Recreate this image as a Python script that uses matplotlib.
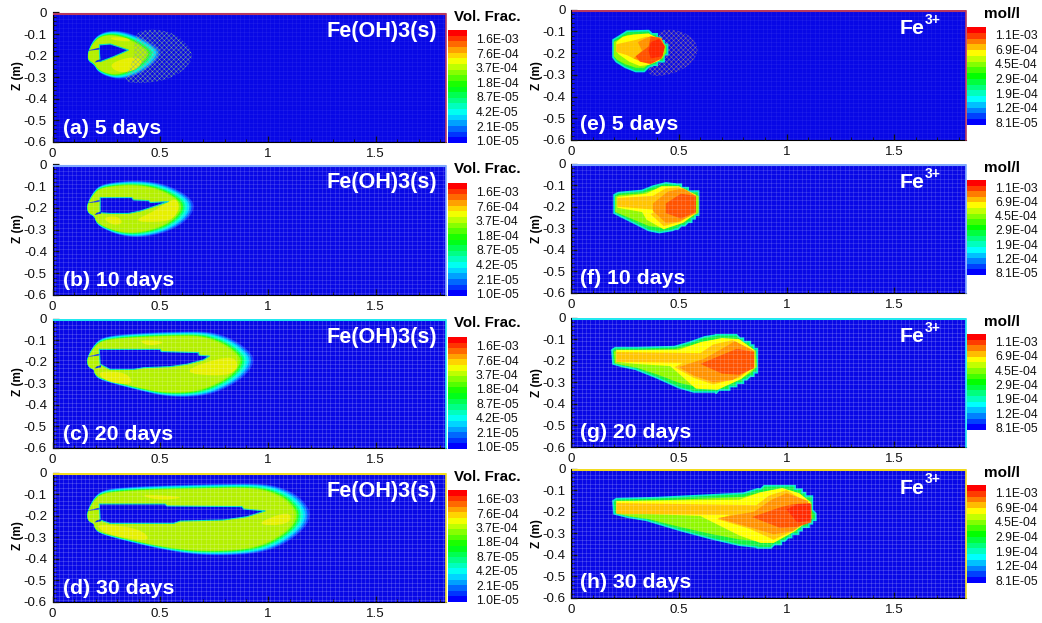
import numpy as np
import matplotlib
matplotlib.use("Agg")
import matplotlib.pyplot as plt
from matplotlib.colors import LinearSegmentedColormap, ListedColormap

plt.rcParams['font.family'] = ['Liberation Sans', 'DejaVu Sans']
plt.rcParams['hatch.linewidth'] = 0.3

W, H = 1042, 623

days = ['5 days', '10 days', '20 days', '30 days']
left_tags = ['(a)', '(b)', '(c)', '(d)']
right_tags = ['(e)', '(f)', '(g)', '(h)']
x_ticks = [0, 0.5, 1, 1.5]
x_tick_labels = ['0', '0.5', '1', '1.5']
z_ticks = [0, -0.1, -0.2, -0.3, -0.4, -0.5, -0.6]
z_tick_labels = ['0', '-0.1', '-0.2', '-0.3', '-0.4', '-0.5', '-0.6']
vol_labels = ['1.0E-05', '2.1E-05', '4.2E-05', '8.7E-05', '1.8E-04', '3.7E-04', '7.6E-04', '1.6E-03']
mol_labels = ['8.1E-05', '1.2E-04', '1.9E-04', '2.9E-04', '4.5E-04', '6.9E-04', '1.1E-03']

# --- Fe(OH)3(s) plume outlines, holes and richer patches (x, z in m)
a_outline = [(.167,-.175),(.19,-.125),(.225,-.095),(.28,-.083),(.34,-.09),(.41,-.115),(.47,-.15),(.505,-.18),(.49,-.215),(.45,-.255),(.39,-.29),(.32,-.31),(.26,-.30),(.21,-.275),(.195,-.245),(.165,-.225),(.163,-.2)]
a_hole = [(.218,-.15),(.268,-.146),(.353,-.174),(.283,-.205),(.221,-.228),(.218,-.19)]
a_patches = [[(.27,-.235),(.36,-.205),(.42,-.215),(.40,-.26),(.33,-.28),(.28,-.265)], [(.26,-.115),(.34,-.115),(.37,-.135),(.29,-.13)]]
b_outline = [(.163,-.175),(.19,-.125),(.22,-.095),(.29,-.08),(.40,-.073),(.50,-.085),(.58,-.115),(.64,-.155),(.658,-.19),(.645,-.23),(.60,-.275),(.53,-.31),(.45,-.33),(.38,-.335),(.31,-.325),(.245,-.30),(.205,-.275),(.195,-.24),(.165,-.225),(.16,-.2)]
b_hole = [(.221,-.152),(.368,-.152),(.376,-.163),(.446,-.166),(.454,-.175),(.539,-.17),(.469,-.194),(.407,-.214),(.353,-.225),(.268,-.225),(.221,-.222)]
b_patches = [[(.37,-.262),(.47,-.215),(.53,-.175),(.575,-.155),(.59,-.20),(.56,-.25),(.50,-.265)], [(.23,-.245),(.30,-.235),(.33,-.27),(.28,-.28)]]
c_outline = [(.163,-.175),(.19,-.125),(.225,-.09),(.30,-.075),(.45,-.065),(.60,-.06),(.72,-.06),(.80,-.08),(.87,-.115),(.92,-.16),(.935,-.19),(.92,-.235),(.87,-.285),(.80,-.325),(.72,-.355),(.62,-.365),(.52,-.36),(.43,-.34),(.33,-.315),(.22,-.285),(.195,-.26),(.195,-.24),(.165,-.225),(.16,-.2)]
c_hole = [(.217,-.143),(.5,-.143),(.505,-.153),(.678,-.158),(.68,-.17),(.729,-.174),(.70,-.192),(.624,-.212),(.546,-.223),(.423,-.228),(.376,-.236),(.268,-.236),(.221,-.212)]
c_patches = [[(.577,-.25),(.825,-.166),(.87,-.22),(.81,-.27)], [(.22,-.243),(.345,-.25),(.376,-.305),(.28,-.30),(.22,-.27)], [(.40,-.105),(.45,-.10),(.53,-.11),(.45,-.128)]]
d_outline = [(.163,-.175),(.19,-.12),(.225,-.085),(.30,-.07),(.50,-.06),(.75,-.053),(.96,-.05),(1.05,-.065),(1.13,-.10),(1.18,-.15),(1.197,-.195),(1.18,-.245),(1.13,-.295),(1.05,-.345),(.95,-.375),(.80,-.385),(.65,-.38),(.50,-.355),(.35,-.32),(.22,-.285),(.195,-.26),(.195,-.24),(.165,-.225),(.16,-.2)]
d_hole = [(.217,-.146),(.523,-.146),(.531,-.155),(.879,-.158),(.887,-.169),(.988,-.178),(.902,-.205),(.794,-.22),(.593,-.225),(.562,-.236),(.268,-.236),(.221,-.22)]
d_patches = [[(.926,-.243),(1.104,-.174),(1.104,-.243)], [(.206,-.236),(.407,-.259),(.461,-.32),(.30,-.298),(.225,-.27)], [(.40,-.105),(.50,-.105),(.62,-.115),(.50,-.13)]]

# --- Fe3+ plume level polygons, outermost first
e_levels = [
    [(.195,-.14),(.22,-.125),(.26,-.10),(.36,-.097),(.38,-.115),(.415,-.125),(.43,-.145),(.443,-.16),(.443,-.20),(.43,-.23),(.40,-.25),(.36,-.265),(.34,-.285),(.30,-.285),(.25,-.265),(.21,-.24),(.195,-.22)],
    [(.21,-.15),(.24,-.125),(.29,-.115),(.36,-.11),(.40,-.13),(.43,-.16),(.43,-.20),(.41,-.235),(.36,-.255),(.32,-.26),(.27,-.24),(.22,-.205),(.21,-.19)],
    [(.21,-.16),(.30,-.14),(.35,-.125),(.41,-.135),(.43,-.17),(.42,-.22),(.36,-.25),(.31,-.235),(.26,-.21),(.21,-.195)],
    [(.31,-.15),(.37,-.122),(.42,-.13),(.435,-.17),(.42,-.225),(.37,-.25),(.29,-.225),(.33,-.19)],
    [(.30,-.215),(.36,-.17),(.37,-.125),(.41,-.13),(.435,-.17),(.42,-.225),(.37,-.25),(.32,-.24)],
    [(.37,-.15),(.41,-.135),(.435,-.17),(.425,-.215),(.37,-.225),(.36,-.19)],
]
f_levels = [
    [(.20,-.145),(.22,-.135),(.33,-.125),(.38,-.105),(.44,-.09),(.48,-.095),(.52,-.105),(.56,-.125),(.597,-.14),(.597,-.235),(.56,-.26),(.53,-.285),(.47,-.31),(.41,-.32),(.36,-.31),(.30,-.28),(.24,-.25),(.20,-.23)],
    [(.215,-.155),(.35,-.14),(.42,-.105),(.50,-.105),(.58,-.145),(.58,-.23),(.52,-.275),(.43,-.305),(.35,-.26),(.33,-.225),(.215,-.205)],
    [(.215,-.16),(.38,-.15),(.44,-.115),(.50,-.11),(.57,-.15),(.57,-.225),(.51,-.27),(.43,-.29),(.37,-.235),(.40,-.215),(.215,-.20)],
    [(.38,-.185),(.45,-.13),(.52,-.115),(.58,-.15),(.58,-.23),(.50,-.27),(.44,-.275),(.38,-.22)],
    [(.44,-.185),(.51,-.14),(.58,-.15),(.58,-.225),(.51,-.255),(.44,-.23)],
]
g_levels = [
    [(.19,-.15),(.205,-.14),(.30,-.14),(.48,-.135),(.55,-.115),(.62,-.09),(.70,-.077),(.76,-.08),(.80,-.10),(.84,-.125),(.865,-.145),(.87,-.235),(.84,-.27),(.80,-.295),(.74,-.325),(.68,-.345),(.57,-.345),(.50,-.325),(.40,-.28),(.30,-.24),(.23,-.225),(.195,-.215)],
    [(.21,-.15),(.50,-.15),(.60,-.115),(.70,-.095),(.78,-.10),(.85,-.15),(.855,-.23),(.79,-.285),(.68,-.335),(.58,-.33),(.50,-.26),(.46,-.225),(.30,-.215),(.21,-.205)],
    [(.21,-.16),(.60,-.165),(.66,-.125),(.75,-.105),(.84,-.15),(.845,-.23),(.78,-.28),(.66,-.31),(.57,-.28),(.48,-.23),(.52,-.21),(.21,-.205)],
    [(.50,-.23),(.62,-.19),(.70,-.145),(.76,-.11),(.85,-.155),(.85,-.23),(.75,-.29),(.66,-.30),(.57,-.27)],
    [(.60,-.215),(.72,-.165),(.77,-.145),(.85,-.16),(.85,-.235),(.78,-.265),(.70,-.26)],
]
h_levels = [
    [(.195,-.15),(.21,-.14),(.40,-.135),(.60,-.125),(.80,-.115),(.88,-.09),(.97,-.075),(1.03,-.08),(1.07,-.10),(1.10,-.125),(1.125,-.145),(1.13,-.235),(1.10,-.265),(1.06,-.29),(1.00,-.33),(.94,-.36),(.87,-.365),(.78,-.355),(.65,-.325),(.50,-.285),(.35,-.24),(.26,-.225),(.20,-.21)],
    [(.21,-.15),(.78,-.145),(.88,-.11),(.98,-.09),(1.06,-.115),(1.11,-.155),(1.115,-.23),(1.04,-.29),(.94,-.345),(.88,-.345),(.78,-.31),(.66,-.25),(.60,-.22),(.21,-.205)],
    [(.21,-.16),(.86,-.17),(.92,-.125),(1.0,-.10),(1.10,-.16),(1.10,-.23),(1.03,-.29),(.94,-.33),(.83,-.28),(.68,-.235),(.74,-.215),(.21,-.21)],
    [(.68,-.23),(.85,-.20),(.93,-.145),(1.0,-.115),(1.10,-.15),(1.11,-.235),(1.03,-.29),(.94,-.305),(.84,-.275)],
    [(.84,-.225),(.97,-.18),(1.03,-.165),(1.11,-.16),(1.115,-.25),(1.05,-.27),(.97,-.275)],
    [(1.0,-.19),(1.05,-.165),(1.115,-.165),(1.115,-.24),(1.05,-.25)],
]
# faint mesh ghost regions at 5 days
a_ghost = [(.376,-.10),(.45,-.075),(.55,-.09),(.62,-.14),(.655,-.20),(.62,-.26),(.54,-.31),(.42,-.33),(.32,-.32),(.38,-.22)]
e_ghost = [(.40,-.10),(.47,-.09),(.55,-.115),(.597,-.18),(.56,-.25),(.48,-.295),(.38,-.31),(.35,-.28),(.42,-.19)]

left_panels = [(a_outline, a_hole, a_patches, a_ghost), (b_outline, b_hole, b_patches, None),
               (c_outline, c_hole, c_patches, None), (d_outline, d_hole, d_patches, None)]
right_panels = [(e_levels, e_ghost), (f_levels, None), (g_levels, None), (h_levels, None)]

# --- layout in reference pixels
left_tops, left_bottoms = [14, 166, 320, 474], [142, 295, 448, 602]
right_tops, right_bottoms = [11, 165, 319, 470], [140, 293, 447, 598]
left_bars = [(30, 143), (183, 296), (337, 449), (490, 602)]
right_bars = [(27, 125), (180, 275), (334, 430), (485, 583)]
border_colors = ['#b8385f', '#7fa8ff', '#22e8f0', '#f2dc20']
texture = [0.05, 0.13, 0.16, 0.16]

BLUE = '#0808e6'
rainbow = LinearSegmentedColormap.from_list('r', [(0, (0, 0, 1)), (.25, (0, 1, 1)), (.5, (0, 1, 0)), (.75, (1, 1, 0)), (1, (1, 0, 0))])


def px_axes(l, t, r, b):
    return fig.add_axes([l / W, 1 - b / H, (r - l) / W, (b - t) / H])


def ftext(x, y, s, **kw):
    fig.text(x / W, 1 - y / H, s, va='center', ha=kw.pop('ha', 'left'), **kw)


def chaikin(pts, n=3):
    p = np.asarray(pts, float)
    for _ in range(n):
        q = np.roll(p, -1, axis=0)
        p = np.column_stack([.75 * p + .25 * q, .25 * p + .75 * q]).reshape(-1, 2)
    return p


def head_blocks(pts, cell=0.016):
    """Snap the head of a Fe3+ outline to the coarse model cells; the tail stays smooth."""
    p = np.asarray(pts, float)
    q = np.roll(p, -1, axis=0)
    t = np.linspace(0, 1, 12, endpoint=False)
    dense = np.concatenate([a + (b - a) * t[:, None] for a, b in zip(p, q)])
    xl, xr = dense[:, 0].min(), dense[:, 0].max()
    head = dense[:, 0] > xl + 0.72 * (xr - xl)
    dense[head] = np.round(dense[head] / cell) * cell
    return dense


def panel(l, t, r, b, color, tex):
    ax = px_axes(l, t - 1.5, r, b)
    scale = (r - l) / 215.5
    ax.set_xlim(0, scale)
    ax.set_ylim(-0.6, 0)
    ax.set_facecolor('white')
    ax.fill_between([0.004, scale], -0.6, -0.007, color=BLUE, lw=0, zorder=1)
    ax.plot([0.004, scale], [-0.007, -0.007], color=color, lw=1.5, zorder=6, solid_capstyle='butt')
    ax.plot([scale, scale], [-0.6, -0.007], color=color, lw=1.2, zorder=6, clip_on=False)
    for s in ['top', 'right']:
        ax.spines[s].set_visible(False)
    ax.set_xticks(x_ticks, x_tick_labels)
    ax.set_yticks(z_ticks, z_tick_labels)
    ax.set_xticks(np.arange(0.1, 1.85, 0.1), minor=True)
    ax.set_yticks(np.arange(-0.58, 0, 0.02), minor=True)
    ax.tick_params(which='major', direction='in', length=4, width=0.9, labelsize=9.6, pad=4, colors='#111111')
    ax.tick_params(which='minor', direction='in', length=2, width=0.7, colors='#111111')
    ax.set_axisbelow(False)
    ax.vlines(np.arange(0.01, scale, 0.02), -0.6, -0.009, color='white', alpha=tex, lw=0.8, zorder=5)
    ax.hlines(np.arange(-0.59, -0.01, 0.02), 0.005, scale, color='white', alpha=tex, lw=0.8, zorder=5)
    return ax


def draw_left(ax, outline, hole, patches, ghost):
    pts = chaikin(outline)
    xl, xr = pts[:, 0].min(), pts[:, 0].max()
    zc = 0.5 * (pts[:, 1].min() + pts[:, 1].max())
    half = 0.5 * (pts[:, 1].max() - pts[:, 1].min())
    cols = ['#1040ff', '#0090ff', '#00d8ff', '#00ffd0', '#00ff80', '#30ff10', '#90f800', '#b4f000']
    for k, c in enumerate(cols):
        sx = 1 - k * 0.0105 / (xr - xl)
        sz = 1 - k * 0.0032 / half
        pivot = xl + 0.035
        x = pivot + (pts[:, 0] - pivot) * np.where(pts[:, 0] > pivot, sx, 1 - k * 0.012)
        z = zc + (pts[:, 1] - zc) * sz
        ax.fill(x, z, color=c, lw=0, zorder=2)
    for p in patches:
        q = chaikin(p, 2)
        ax.fill(q[:, 0], q[:, 1], color='#e6f000', lw=0, zorder=3)
    h = np.array(hole)
    ax.fill(h[:, 0], h[:, 1], facecolor=BLUE, edgecolor='#00e0c0', lw=0.8, zorder=3)
    left_slit = np.array([(.155, -.178), (.218, -.163), (.218, -.172)])
    ax.fill(left_slit[:, 0], left_slit[:, 1], color='#0a30f0', lw=0, zorder=3)
    notch = np.array([(.195, -.232), (.225, -.226), (.225, -.216), (.205, -.222)])
    ax.fill(notch[:, 0], notch[:, 1], color='#0a30f0', lw=0, zorder=3)
    if ghost is not None:
        g = chaikin(ghost, 2)
        ax.fill(g[:, 0], g[:, 1], facecolor='none', edgecolor='#7fae8c', hatch='xxxxxxx', lw=0, zorder=4)


def draw_right(ax, levels, ghost):
    if ghost is not None:
        g = chaikin(ghost, 2)
        ax.fill(g[:, 0], g[:, 1], facecolor='none', edgecolor='#9a8088', hatch='xxxxxxx', lw=0, zorder=1.5)
    cols = ['#10f040', '#ffff00', '#ffc400', '#ff9200', '#ff5200', '#ff2800']
    outer = np.array(levels[0])
    block = head_blocks(outer)
    ax.fill(block[:, 0], block[:, 1], facecolor=cols[0], edgecolor='#00e8d0', lw=1.2, zorder=2, joinstyle='miter')
    c = outer.mean(axis=0)
    mid = c + (outer - c) * [0.975, 0.82]
    ax.fill(mid[:, 0], mid[:, 1], color='#90f800', lw=0, zorder=2.1)
    for k, poly in enumerate(levels[1:]):
        p = np.array(poly)
        ax.fill(p[:, 0], p[:, 1], color=cols[k + 1], lw=0, zorder=2.2 + k * 0.1)


def colorbar(top, bottom, l, r, n, labels, base, step):
    ax = px_axes(l, top, r, bottom)
    cmap = ListedColormap(rainbow(np.linspace(0, 1, n)))
    ax.pcolormesh(np.arange(2), np.arange(n + 1), np.arange(n).reshape(-1, 1), cmap=cmap, shading='flat')
    ax.set_xticks([])
    ax.yaxis.tick_right()
    ax.set_yticks([base + step * i for i in range(len(labels))], labels)
    ax.tick_params(axis='y', length=0, pad=6.5, labelsize=8.7, colors='#111111')
    for s in ax.spines.values():
        s.set_visible(False)


fig = plt.figure(figsize=(W / 100, H / 100), dpi=100, facecolor='white')

for i in range(4):
    t, b = left_tops[i], left_bottoms[i]
    ax = panel(52.5, t, 446, b, border_colors[i], texture[i])
    draw_left(ax, *left_panels[i])
    ftext(18, (t + b) / 2 - 2, 'Z (m)', rotation=90, fontsize=8.5, fontweight='bold', ha='center')
    ftext(326, t + 17, 'Fe(OH)3(s)', color='white', fontsize=15.6, fontweight='bold', zorder=10)
    ftext(63, t + 114, f'{left_tags[i]} {days[i]}', color='white', fontsize=15.3, fontweight='bold', zorder=10)
    ftext(454, t + 3, 'Vol. Frac.', fontsize=10.8, fontweight='bold')
    bt, bb = left_bars[i]
    colorbar(bt, bb, 448, 467, 20, vol_labels, 0.41, 2.58)

    t, b = right_tops[i], right_bottoms[i]
    ax = panel(571, t, 966, b, border_colors[i], texture[i])
    draw_right(ax, *right_panels[i])
    ftext(537, (t + b) / 2, 'Z (m)', rotation=90, fontsize=8.5, fontweight='bold', ha='center')
    ftext(900, t + 18, 'Fe', color='white', fontsize=15.3, fontweight='bold', zorder=10)
    ftext(925, t + 9, '3+', color='white', fontsize=10, fontweight='bold', zorder=10)
    ftext(580, t + 113, f'{right_tags[i]} {days[i]}', color='white', fontsize=15.3, fontweight='bold', zorder=10)
    ftext(984, t + 3, 'mol/l', fontsize=11, fontweight='bold')
    bt, bb = right_bars[i]
    colorbar(bt, bb, 967, 986, 17, mol_labels, 0.47, 2.53)

fig.savefig('out.png', dpi=100, facecolor='white')
